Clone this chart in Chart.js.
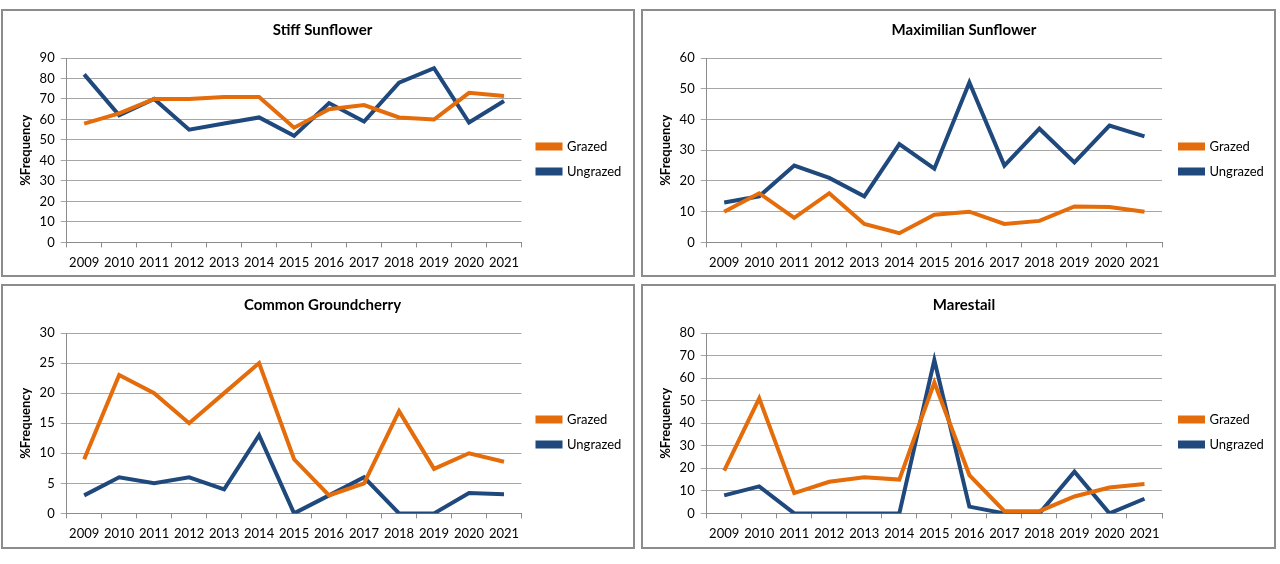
<!DOCTYPE html>
<html>
<head>
<meta charset="utf-8">
<script src="https://cdn.jsdelivr.net/npm/chart.js@4.4.1/dist/chart.umd.min.js"></script>
<style>
  html, body { margin: 0; padding: 0; background: #ffffff; }
  body { width: 1280px; height: 564px; position: relative; overflow: hidden; }
  .panel { position: absolute; box-sizing: border-box; border: 2px solid #8c8c8c; background: #fff; }
  .panel canvas { display: block; }
</style>
</head>
<body>
<div class="panel" id="p1" style="left:1px;top:9px;width:634px;height:268px;"><canvas id="c1"></canvas></div>
<div class="panel" id="p2" style="left:641px;top:9px;width:635px;height:268px;"><canvas id="c2"></canvas></div>
<div class="panel" id="p3" style="left:1px;top:284px;width:634px;height:265px;"><canvas id="c3"></canvas></div>
<div class="panel" id="p4" style="left:641px;top:284px;width:635px;height:265px;"><canvas id="c4"></canvas></div>
<script>
const years = ["2009","2010","2011","2012","2013","2014","2015","2016","2017","2018","2019","2020","2021"];
const seriesNames = ["Grazed", "Ungrazed"];

const stiffGrazed   = [58, 63, 70, 70, 71, 71, 56, 65, 67, 61, 60, 73, 71.5];
const stiffUngrazed = [82, 62, 70, 55, 58, 61, 52, 68, 59, 78, 85, 58.5, 69];

const maxGrazed   = [10, 16, 8, 16, 6, 3, 9, 10, 6, 7, 11.7, 11.5, 10];
const maxUngrazed = [13, 15, 25, 21, 15, 32, 24, 52, 25, 37, 26, 38, 34.5];

const cherryGrazed   = [9, 23, 20, 15, 20, 25, 9, 3, 5, 17, 7.4, 10, 8.6];
const cherryUngrazed = [3, 6, 5, 6, 4, 13, 0, 3, 6, 0, 0, 3.4, 3.2];

const mareGrazed   = [19, 51, 9, 14, 16, 15, 58, 17, 1, 1, 7.5, 11.5, 13];
const mareUngrazed = [8, 12, 0, 0, 0, 0, 68, 3, 0, 0, 18.5, 0, 6.5];

const titles = ["Stiff Sunflower", "Maximilian Sunflower", "Common Groundcherry", "Marestail"];
const yMax   = [90, 60, 30, 80];
const yStep  = [10, 10, 5, 10];

const ORANGE = "#E46C0A";
const BLUE = "#1F497D";
const FONT = "Lato, 'Open Sans', sans-serif";

function makeChart(canvasId, panelId, title, g, u, max, step, gapRight, rightPad, bottomPad) {
  const panel = document.getElementById(panelId);
  const cv = document.getElementById(canvasId);
  cv.width = panel.clientWidth;
  cv.height = panel.clientHeight;
  cv.style.width = panel.clientWidth + "px";
  cv.style.height = panel.clientHeight + "px";
  return new Chart(cv, {
    type: "line",
    data: {
      labels: years,
      datasets: [
        { label: seriesNames[0], data: g, borderColor: ORANGE, backgroundColor: ORANGE, borderWidth: 4, pointRadius: 0, tension: 0 },
        { label: seriesNames[1], data: u, borderColor: BLUE, backgroundColor: BLUE, borderWidth: 4, pointRadius: 0, tension: 0 }
      ]
    },
    options: {
      responsive: false,
      animation: false,
      devicePixelRatio: 1,
      layout: { padding: { left: 15, right: rightPad, top: 0, bottom: bottomPad } },
      plugins: {
        title: {
          display: true, text: title, color: "#000",
          font: { family: FONT, size: 15, weight: "bold" },
          padding: { top: 10, bottom: 19 }
        },
        legend: {
          display: true, position: "right",
          title: { display: true, text: " ", font: { size: 10 }, padding: { top: 0, bottom: 16 } },
          labels: {
            boxWidth: 23, boxHeight: 4, padding: 12,
            color: "#000", font: { family: FONT, size: 13 }
          }
        },
        tooltip: { enabled: false }
      },
      scales: {
        x: {
          offset: true,
          grid: { offset: true, drawOnChartArea: false, drawTicks: true, tickLength: 5, color: "#8c8c8c" },
          border: { color: "#8c8c8c", width: 1 },
          ticks: { color: "#000", font: { family: FONT, size: 13 }, maxRotation: 0, autoSkip: false, padding: 8 }
        },
        y: {
          min: 0, max: max,
          ticks: { stepSize: step, color: "#000", font: { family: FONT, size: 13 }, padding: 6 },
          grid: { color: "#a6a6a6", tickLength: 6, lineWidth: 1 },
          border: { color: "#8c8c8c", width: 1 },
          title: { display: true, text: "%Frequency", color: "#000", font: { family: FONT, size: 13, weight: "bold" }, padding: { top: 0, bottom: 0 } }
        },
        gap: {
          type: "linear", position: "right", display: true,
          grid: { display: false }, ticks: { display: false }, border: { display: false },
          afterFit: s => { s.width = gapRight; }
        }
      }
    }
  });
}

makeChart("c1", "p1", titles[0], stiffGrazed, stiffUngrazed, yMax[0], yStep[0], 4, 6, -4);
makeChart("c2", "p2", titles[1], maxGrazed, maxUngrazed, yMax[1], yStep[1], 6, 4, -4);
makeChart("c3", "p3", titles[2], cherryGrazed, cherryUngrazed, yMax[2], yStep[2], 4, 6, -3);
makeChart("c4", "p4", titles[3], mareGrazed, mareUngrazed, yMax[3], yStep[3], 6, 4, -3);
</script>
</body>
</html>
